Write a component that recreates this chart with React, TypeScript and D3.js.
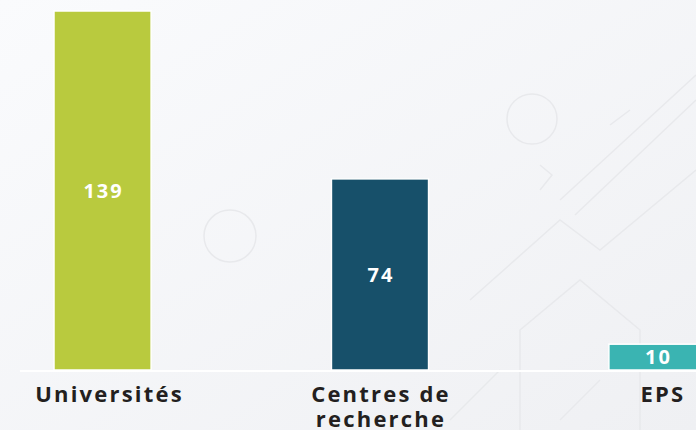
import React, { useRef, useEffect } from 'react';
import * as d3 from 'd3';

const categories = ['Universités', 'Centres de recherche', 'EPS'];
const categoryLines = [['Universités'], ['Centres de', 'recherche'], ['EPS']];
const values = [139, 74, 10];
const colors = ['#b9ca3e', '#17506a', '#3ab4b2'];

const width = 696;
const height = 430;
const baseline = 370;
const top = 11;

const App = () => {
  const ref = useRef<SVGSVGElement>(null);

  useEffect(() => {
    const svg = d3.select(ref.current);
    svg.selectAll('*').remove();

    const defs = svg.append('defs');
    const grad = defs.append('linearGradient').attr('id', 'bg').attr('x1', 0).attr('y1', 0).attr('x2', 1).attr('y2', 1);
    grad.append('stop').attr('offset', '0%').attr('stop-color', '#fafbfd');
    grad.append('stop').attr('offset', '100%').attr('stop-color', '#eff0f3');

    svg.append('rect').attr('width', width).attr('height', height).attr('fill', 'url(#bg)');

    // faint background decorations
    const deco = svg.append('g').attr('fill', 'none').attr('stroke', '#e8e9ec').attr('stroke-width', 1.5);
    deco.append('circle').attr('cx', 532).attr('cy', 119).attr('r', 25);
    deco.append('circle').attr('cx', 230).attr('cy', 236).attr('r', 26);
    deco.append('path').attr('d', 'M560,200 L696,75');
    deco.append('path').attr('d', 'M575,215 L696,100');
    deco.append('path').attr('d', 'M540,165 L552,175 L540,190');
    deco.append('path').attr('d', 'M610,125 L630,110');
    deco.append('path').attr('d', 'M470,300 L560,220 L600,250 L696,170');
    deco.append('path').attr('d', 'M520,430 L520,330 L580,280 L640,330 L640,430');
    deco.append('path').attr('d', 'M600,380 L560,420');
    deco.append('path').attr('d', 'M450,420 L500,370');

    const x = d3.scaleBand<string>()
      .domain(categories)
      .range([54, 706])
      .paddingInner(0.65)
      .paddingOuter(0);

    const y = d3.scaleLinear()
      .domain([0, 139])
      .range([baseline, top]);

    const g = svg.append('g');

    g.selectAll('rect.bar')
      .data(values)
      .enter()
      .append('rect')
      .attr('class', 'bar')
      .attr('x', (d, i) => x(categories[i])!)
      .attr('y', d => y(d))
      .attr('width', x.bandwidth())
      .attr('height', d => baseline - y(d))
      .attr('fill', (d, i) => colors[i])
      .attr('stroke', '#ffffff')
      .attr('stroke-width', 1.5);

    g.selectAll('text.value')
      .data(values)
      .enter()
      .append('text')
      .attr('class', 'value')
      .attr('x', (d, i) => x(categories[i])! + x.bandwidth() / 2 + 1)
      .attr('y', d => (y(d) + baseline) / 2)
      .attr('dy', '0.36em')
      .attr('text-anchor', 'middle')
      .attr('fill', '#ffffff')
      .attr('font-family', 'Open Sans, sans-serif')
      .attr('font-weight', 700)
      .attr('font-size', 20)
      .attr('letter-spacing', 2)
      .text(d => d);

    svg.append('line')
      .attr('x1', 20).attr('x2', width)
      .attr('y1', baseline + 1).attr('y2', baseline + 1)
      .attr('stroke', '#ffffff')
      .attr('stroke-width', 2);

    const labels = svg.append('g')
      .attr('font-family', 'Open Sans, sans-serif')
      .attr('font-weight', 700)
      .attr('font-size', 22)
      .attr('fill', '#231f20')
      .attr('text-anchor', 'middle');

    categoryLines.forEach((lines, i) => {
      const cx = i === 2 ? 663 : x(categories[i])! + x.bandwidth() / 2 + (i === 1 ? 1 : 7);
      const t = labels.append('text').attr('x', cx).attr('y', 402).attr('letter-spacing', 2.2);
      lines.forEach((line, j) => {
        t.append('tspan').attr('x', cx).attr('dy', j === 0 ? 0 : 25).text(line);
      });
    });
  }, []);

  return (
    <svg ref={ref} width={width} height={height} style={{ position: 'absolute', left: 0, top: 0 }} />
  );
};

export default App;
